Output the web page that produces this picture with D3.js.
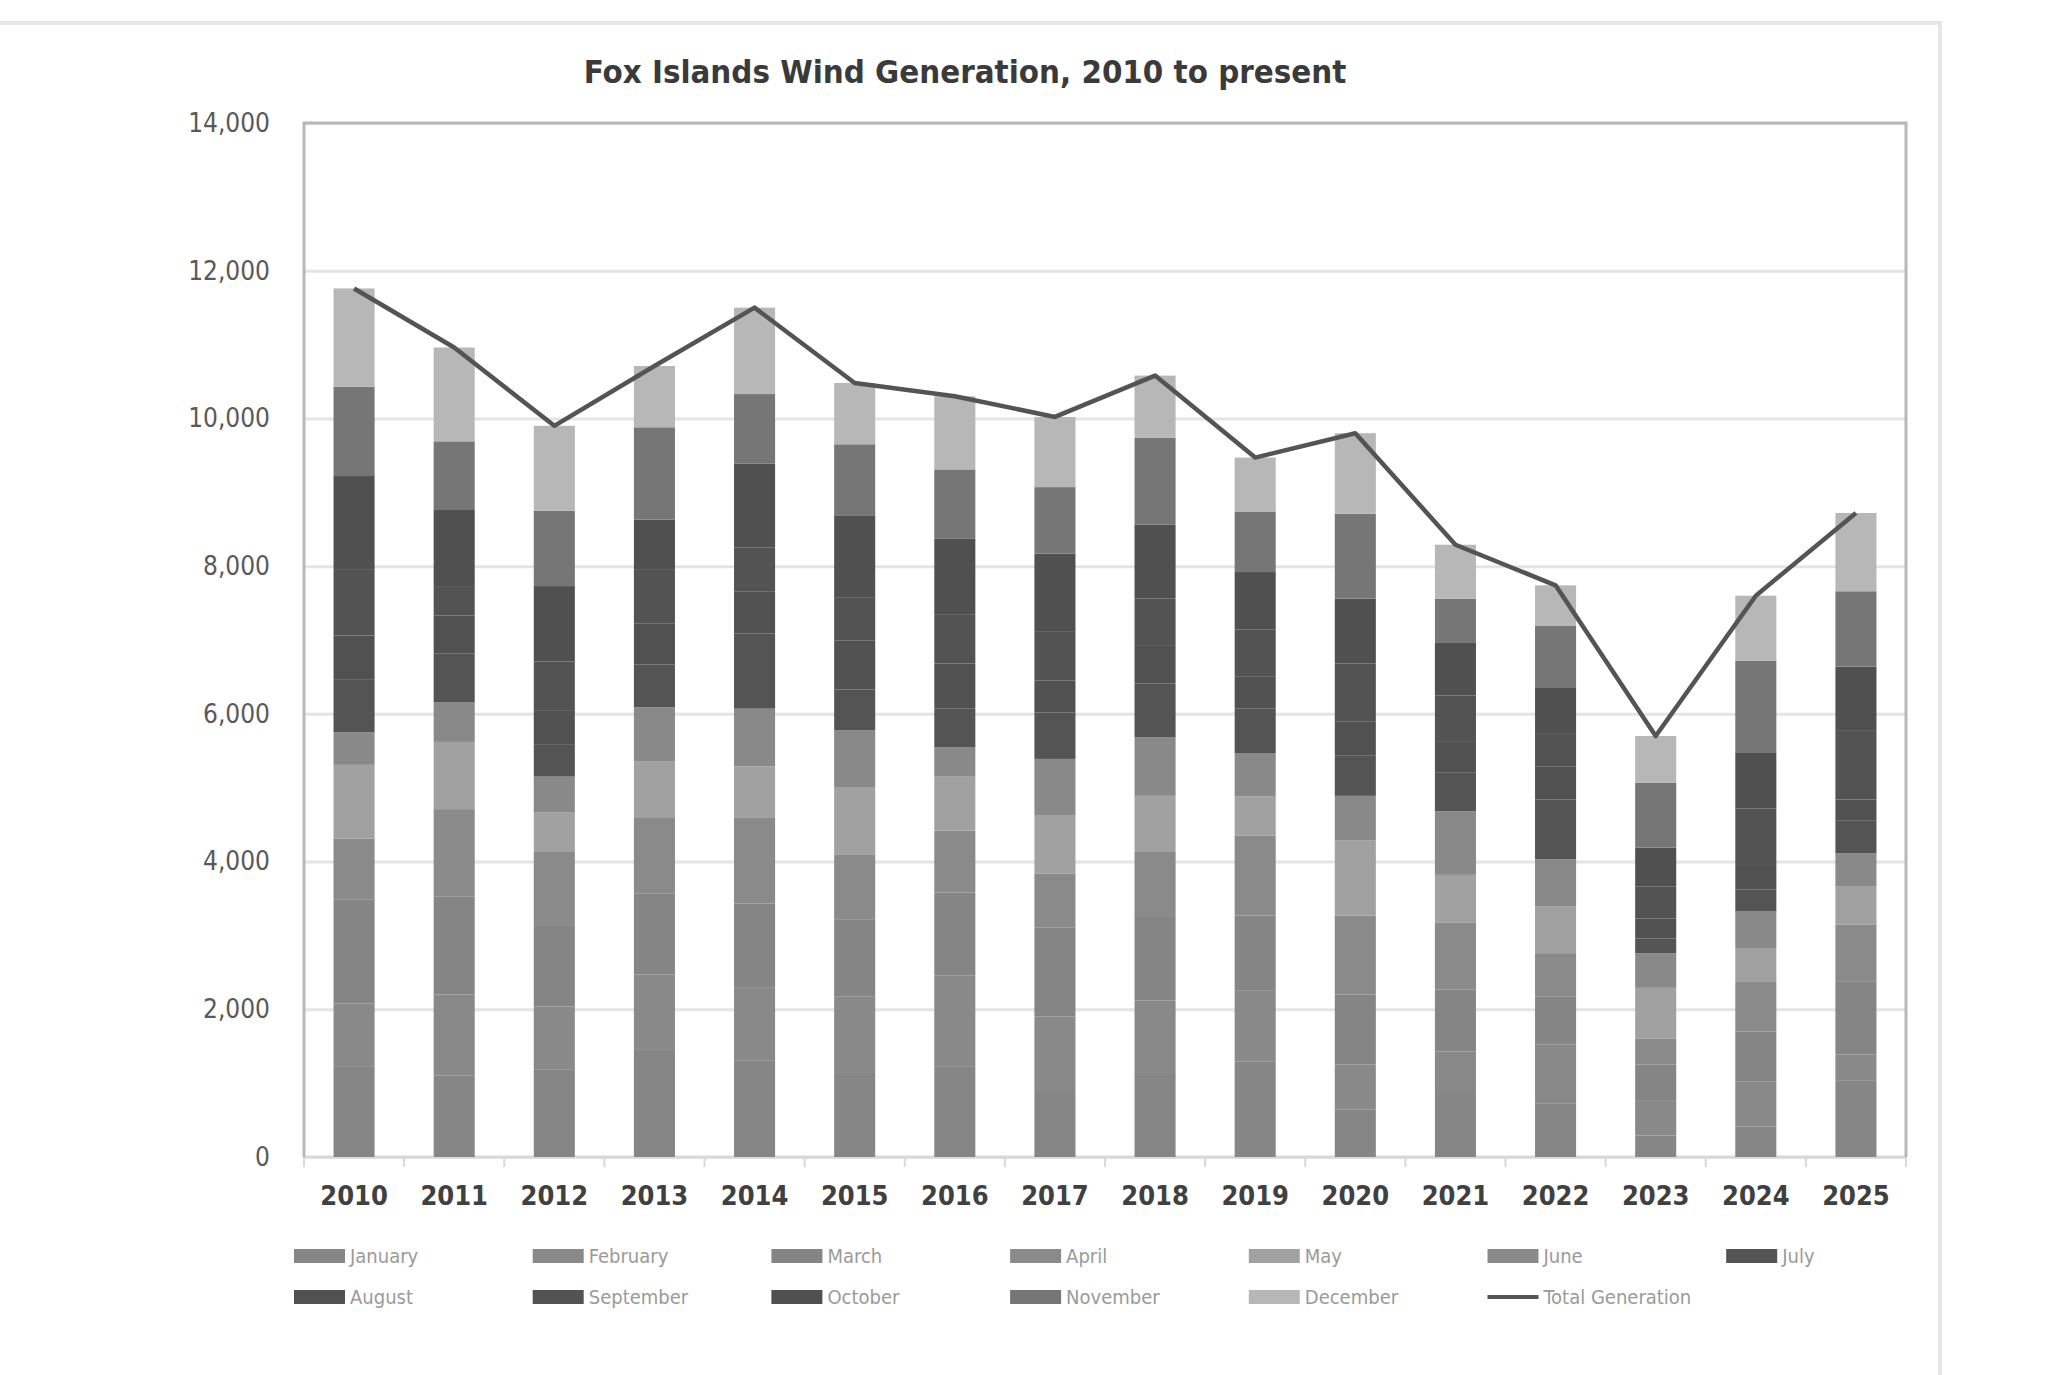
<!DOCTYPE html>
<html>
<head>
<meta charset="utf-8">
<script src="https://cdn.jsdelivr.net/npm/d3@7"></script>
<style>
  html, body { margin: 0; padding: 0; background: #fff; }
  svg { display: block; }
</style>
</head>
<body>
<div id="chart"></div>
<script>
// years on the x axis
var years = ["2010","2011","2012","2013","2014","2015","2016","2017",
             "2018","2019","2020","2021","2022","2023","2024","2025"];

// monthly generation per year
var january   = [1220,1100,1180,1450,1310,1150,1230, 880,1150,1290, 640, 880, 720, 290, 410,1040];
var february  = [ 860,1100, 860,1020, 980,1020,1230,1020, 970, 960, 610, 550, 800, 470, 610, 350];
var march     = [1410,1330,1100,1100,1140,1050,1120,1210,1130,1020, 950, 840, 650, 490, 680, 990];
var april     = [ 820,1180, 990,1020,1170, 870, 840, 730, 880,1080,1070, 900, 590, 350, 670, 770];
var may       = [1000, 910, 540, 770, 690, 910, 730, 790, 760, 530,1020, 650, 630, 690, 450, 510];
var june      = [ 440, 540, 480, 730, 780, 780, 400, 760, 790, 590, 600, 860, 640, 470, 510, 450];
var july      = [ 720, 660, 440, 580,1020, 550, 520, 630, 730, 600, 550, 530, 810, 200, 290, 450];
var august    = [ 590, 510, 450, 550, 570, 660, 610, 430, 510, 440, 460, 410, 450, 270, 320, 280];
var september = [ 900, 400, 670, 740, 590, 590, 670, 660, 640, 630, 780, 630, 450, 430, 780, 940];
var october   = [1260,1030,1020, 670,1140,1100,1020,1060,1000, 780, 880, 710, 610, 530, 750, 860];
var november  = [1210, 930,1020,1250, 940, 970, 940, 900,1180, 820,1150, 600, 840, 880,1250,1020];
var december  = [1330,1270,1150, 830,1170, 830, 990, 950, 840, 730,1090, 730, 550, 630, 880,1060];

var monthNames = ["January","February","March","April","May","June","July",
                  "August","September","October","November","December"];
var monthData = [january,february,march,april,may,june,july,
                 august,september,october,november,december];
var monthColors = ["#868686","#898989","#858585","#8a8a8a","#a1a1a1","#898989",
                   "#545454","#515151","#535353","#505050","#767676","#b7b7b7"];

var yTicks = [0,2000,4000,6000,8000,10000,12000,14000];

var W = 2060, H = 1375;
var plot = {left: 304, top: 123, right: 1906, bottom: 1157};
var font = "'DejaVu Sans Condensed', 'Open Sans', sans-serif";

// rows for the stack
var rows = years.map(function(yr, i) {
  var r = {year: yr};
  monthNames.forEach(function(m, j) { r[m] = monthData[j][i]; });
  r.total = d3.sum(monthData, function(arr) { return arr[i]; });
  return r;
});

var svg = d3.select("#chart").append("svg")
  .attr("width", W).attr("height", H);

// card border
svg.append("rect").attr("x", -10).attr("y", 23).attr("width", 1950).attr("height", 1400)
  .attr("fill", "#fff").attr("stroke", "#e6e6e6").attr("stroke-width", 4);

var x = d3.scaleBand()
  .domain(years)
  .range([plot.left, plot.right])
  .paddingInner(0.59)
  .paddingOuter(0.295);

var y = d3.scaleLinear()
  .domain([0, 14000])
  .range([plot.bottom, plot.top]);

// grid
svg.append("g")
  .attr("transform", "translate(" + plot.left + ",0)")
  .call(d3.axisLeft(y).tickValues(yTicks).tickSize(-(plot.right - plot.left)).tickFormat(""))
  .call(function(g) {
    g.select(".domain").remove();
    g.selectAll("line").attr("stroke", "#e4e4e4").attr("stroke-width", 3);
  });

// y labels
svg.append("g")
  .attr("transform", "translate(" + (plot.left - 34) + ",0)")
  .call(d3.axisLeft(y).tickValues(yTicks).tickSize(0).tickFormat(d3.format(",")))
  .call(function(g) {
    g.select(".domain").remove();
    g.selectAll("text")
      .attr("x", 0)
      .style("font-family", font)
      .style("font-size", "26px")
      .style("fill", "#595959");
  });

// x axis line + boundary ticks
svg.append("line")
  .attr("x1", plot.left).attr("x2", plot.right)
  .attr("y1", y(0)).attr("y2", y(0))
  .attr("stroke", "#d9d9d9").attr("stroke-width", 3);

svg.append("g").selectAll("line")
  .data(years.concat(["end"]))
  .enter().append("line")
    .attr("x1", function(d, i) { return plot.left + i * x.step(); })
    .attr("x2", function(d, i) { return plot.left + i * x.step(); })
    .attr("y1", y(0)).attr("y2", y(0) + 10)
    .attr("stroke", "#d9d9d9").attr("stroke-width", 2);

svg.append("g")
  .attr("transform", "translate(0," + (plot.bottom + 36) + ")")
  .call(d3.axisBottom(x).tickSize(0))
  .call(function(g) {
    g.select(".domain").remove();
    g.selectAll("text")
      .attr("dy", "0.35em")
      .style("font-family", font)
      .style("font-weight", "bold")
      .style("font-size", "27px")
      .style("fill", "#404040");
  });

// stacked bars
var stack = d3.stack().keys(monthNames);
var series = stack(rows);

svg.append("g").selectAll("g")
  .data(series)
  .enter().append("g")
    .attr("fill", function(d, i) { return monthColors[i]; })
  .selectAll("rect")
  .data(function(d) { return d; })
  .enter().append("rect")
    .attr("x", function(d) { return x(d.data.year); })
    .attr("y", function(d) { return y(d[1]); })
    .attr("width", x.bandwidth())
    .attr("height", function(d) { return y(d[0]) - y(d[1]); });

// plot frame (left, top, right)
svg.append("path")
  .attr("d", "M" + plot.left + "," + plot.bottom + "V" + plot.top + "H" + plot.right + "V" + plot.bottom)
  .attr("fill", "none").attr("stroke", "#b8b8b8").attr("stroke-width", 3);

// total line
var line = d3.line()
  .x(function(d) { return x(d.year) + x.bandwidth() / 2; })
  .y(function(d) { return y(d.total); });

svg.append("path")
  .datum(rows)
  .attr("d", line)
  .attr("fill", "none")
  .attr("stroke", "#545454")
  .attr("stroke-width", 4.5)
  .attr("stroke-linejoin", "round");

// title
var title = svg.append("text")
  .attr("x", 965).attr("y", 83)
  .attr("text-anchor", "middle")
  .style("font-family", font)
  .style("font-weight", "bold")
  .style("font-size", "40px")
  .style("fill", "#3a3a3a")
  .text("Fox Islands Wind Generation, 2010 to present");
var tw = title.node().getComputedTextLength();
title.style("font-size", (40 * 763 / tw) + "px");

// legend
var legendItems = monthNames.map(function(m, i) { return {name: m, color: monthColors[i], type: "bar"}; })
  .concat([{name: "Total Generation", color: "#545454", type: "line"}]);

var legend = svg.append("g").selectAll("g")
  .data(legendItems)
  .enter().append("g")
    .attr("transform", function(d, i) {
      var col = i % 7, row = Math.floor(i / 7);
      return "translate(" + (294 + col * 238.7) + "," + (1256 + row * 41) + ")";
    });

legend.filter(function(d) { return d.type === "bar"; })
  .append("rect")
    .attr("x", 0).attr("y", -7).attr("width", 51).attr("height", 14)
    .attr("fill", function(d) { return d.color; });

legend.filter(function(d) { return d.type === "line"; })
  .append("line")
    .attr("x1", 0).attr("x2", 51).attr("y1", 0).attr("y2", 0)
    .attr("stroke", function(d) { return d.color; }).attr("stroke-width", 4);

legend.append("text")
  .attr("x", 56).attr("y", 0).attr("dy", "0.35em")
  .style("font-family", font)
  .style("font-size", "20px")
  .style("fill", "#9a9a9a")
  .text(function(d) { return d.name; });
</script>
</body>
</html>
